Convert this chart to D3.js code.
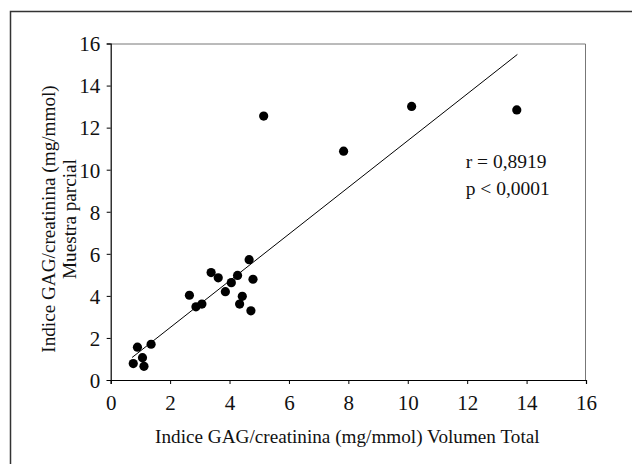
<!DOCTYPE html>
<html>
<head>
<meta charset="utf-8">
<script src="https://cdn.jsdelivr.net/npm/d3@7"></script>
<style>
  body { margin: 0; background: #fff; }
  text { font-family: "Liberation Serif", "Times New Roman", serif; fill: #111; }
</style>
</head>
<body>
<div id="chart"></div>
<script>
// Volumen total (x) vs muestra parcial (y)
const xValues = [0.76, 0.90, 1.07, 1.12, 1.36, 2.65, 2.87, 3.07, 3.38, 3.62, 3.86,
  4.06, 4.27, 4.43, 4.34, 4.66, 4.79, 4.72, 5.15, 7.84, 10.13, 13.67];
const yValues = [0.78, 1.56, 1.06, 0.65, 1.70, 4.03, 3.48, 3.61, 5.11, 4.86, 4.20,
  4.63, 4.97, 3.98, 3.61, 5.72, 4.79, 3.29, 12.55, 10.88, 13.01, 12.84];

// regression line end points
const fitX = [0.72, 13.69];
const fitY = [1.07, 15.48];

const tickValues = [0, 2, 4, 6, 8, 10, 12, 14, 16];
const statLines = ["r = 0,8919", "p < 0,0001"];

const margin = { top: 43.5, right: 46, bottom: 84, left: 110.7 },
  width = 632 - margin.left - margin.right,
  height = 464 - margin.top - margin.bottom;

const root = d3.select("#chart")
  .append("svg")
  .attr("width", 632)
  .attr("height", 464);

// outer frame (top and left edges only)
root.append("path")
  .attr("d", "M10.5,464 V11.5 H632")
  .attr("fill", "none")
  .attr("stroke", "#333")
  .attr("stroke-width", 1.5);

const svg = root.append("g")
  .attr("transform", `translate(${margin.left},${margin.top})`);

const x = d3.scaleLinear().domain([0, 16]).range([0, width]);
const y = d3.scaleLinear().domain([0, 16]).range([height, 0]);

// light frame on top and right
svg.append("path")
  .attr("d", `M0,0.5 H${width - 0.5} V${height}`)
  .attr("fill", "none")
  .attr("stroke", "#777")
  .attr("stroke-width", 1);

const xAxis = svg.append("g")
  .attr("transform", `translate(0,${height})`)
  .call(d3.axisBottom(x).tickValues(tickValues).tickSize(4).tickPadding(11));

const yAxis = svg.append("g")
  .call(d3.axisLeft(y).tickValues(tickValues).tickSize(4).tickPadding(6.5));

[xAxis, yAxis].forEach(a => {
  a.select(".domain").attr("stroke", "#000").attr("stroke-width", 1.2);
  a.selectAll(".tick line").attr("stroke", "#000");
  a.selectAll(".tick text")
    .attr("font-family", "Liberation Serif, serif")
    .attr("font-size", 21)
    .attr("fill", "#111");
});
yAxis.selectAll(".tick text").attr("dy", "0.35em");

// regression line
svg.append("line")
  .attr("x1", x(fitX[0]))
  .attr("y1", y(fitY[0]))
  .attr("x2", x(fitX[1]))
  .attr("y2", y(fitY[1]))
  .attr("stroke", "#000")
  .attr("stroke-width", 1);

// points
svg.selectAll(".dot")
  .data(xValues)
  .enter()
  .append("circle")
  .attr("class", "dot")
  .attr("cx", d => x(d))
  .attr("cy", (d, i) => y(yValues[i]))
  .attr("r", 4.6)
  .attr("fill", "#000");

// r and p annotation
svg.selectAll(".stat")
  .data(statLines)
  .enter()
  .append("text")
  .attr("class", "stat")
  .attr("x", x(11.95))
  .attr("y", (d, i) => y(10.08) + i * 27)
  .attr("font-size", 19.5)
  .text(d => d);

// axis titles
svg.append("text")
  .attr("x", width / 2 - 1)
  .attr("y", height + 63)
  .attr("text-anchor", "middle")
  .attr("font-size", 19.2)
  .text("Indice GAG/creatinina (mg/mmol) Volumen Total");

const yTitle = svg.append("text")
  .attr("transform", "rotate(-90)")
  .attr("text-anchor", "middle")
  .attr("font-size", 19.2);

yTitle.append("tspan")
  .attr("x", -175.5)
  .attr("y", -56)
  .text("Indice GAG/creatinina (mg/mmol)");

yTitle.append("tspan")
  .attr("x", -175.5)
  .attr("y", -35)
  .text("Muestra parcial");
</script>
</body>
</html>
